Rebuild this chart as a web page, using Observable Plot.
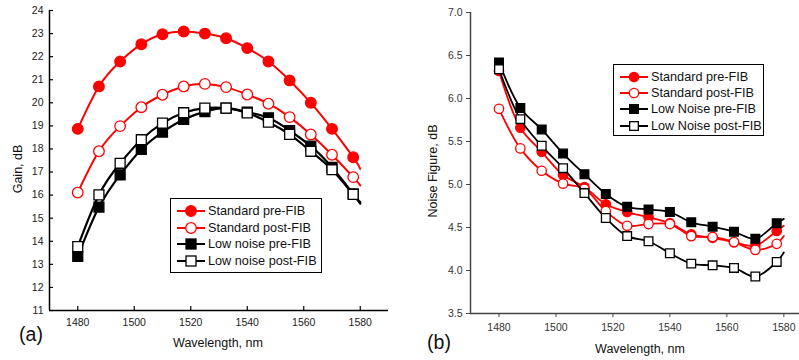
<!DOCTYPE html>
<html><head><meta charset="utf-8">
<script src="https://cdn.jsdelivr.net/npm/d3@7"></script>
<script src="https://cdn.jsdelivr.net/npm/@observablehq/plot@0.6"></script>
<style>
body{margin:0;background:#fff;font-family:"Liberation Sans",Arial,sans-serif;}
#wrap{position:relative;width:799px;height:360px;overflow:hidden;background:#fff;}
.panel{position:absolute;top:0;}
.lbl{position:absolute;color:#111;white-space:nowrap;line-height:1;}
.legend{position:absolute;border:1.3px solid #000;background:#fff;box-sizing:border-box;}
.row{position:absolute;left:0;height:16px;display:flex;align-items:center;font-size:12.7px;color:#111;white-space:nowrap;}
.row svg{display:block;}
</style>
</head><body>
<div id="wrap"></div>
<script>
// ---------- data ----------
const wavelengths = [1480,1487.5,1495,1502.5,1510,1517.5,1525,1532.5,1540,1547.5,1555,1562.5,1570,1577.5];
const lineEndWavelength = 1580;

// Panel (a): Gain, dB
const gainStdPre   = [18.87,20.71,21.79,22.54,22.97,23.09,23.00,22.80,22.37,21.79,20.97,20.00,18.87,17.64];
const gainStdPost  = [16.11,17.90,18.99,19.81,20.35,20.71,20.82,20.68,20.36,19.96,19.38,18.63,17.75,16.78];
const gainLnPre    = [13.34,15.48,16.88,17.98,18.73,19.28,19.62,19.77,19.60,19.35,18.80,18.12,17.20,16.05];
const gainLnPost   = [13.77,16.01,17.38,18.40,19.12,19.57,19.77,19.77,19.56,19.16,18.63,17.90,17.10,16.03];
const gainLineEnds = [17.14,16.42,15.63,15.70];

// Panel (b): Noise Figure, dB
const nfStdPre   = [6.32,5.66,5.38,5.11,4.97,4.77,4.68,4.62,4.55,4.42,4.38,4.33,4.29,4.46];
const nfStdPost  = [5.88,5.42,5.16,5.01,4.95,4.69,4.52,4.54,4.54,4.40,4.39,4.33,4.24,4.31];
const nfLnPre    = [6.42,5.89,5.64,5.36,5.12,4.89,4.74,4.71,4.68,4.56,4.51,4.45,4.37,4.55];
const nfLnPost   = [6.34,5.76,5.45,5.19,4.90,4.61,4.40,4.34,4.20,4.08,4.06,4.03,3.93,4.10];
const nfLineEnds = [4.52,4.40,4.60,4.21];

// Tick values
const xTicks = [1480,1500,1520,1540,1560,1580];
const gainTicks = [11,12,13,14,15,16,17,18,19,20,21,22,23,24];
const nfTicks = [3.5,4.0,4.5,5.0,5.5,6.0,6.5,7.0];

// Legend labels
const legendA = ["Standard pre-FIB","Standard post-FIB","Low noise pre-FIB","Low noise post-FIB"];
const legendB = ["Standard pre-FIB","Standard post-FIB","Low Noise pre-FIB","Low Noise post-FIB"];

// ---------- styles per series ----------
const RED = "#ff0000", BLK = "#000000";
const styles = [
  {color: RED, symbol: "circle", filled: true},
  {color: RED, symbol: "circle", filled: false},
  {color: BLK, symbol: "square", filled: true},
  {color: BLK, symbol: "square", filled: false}
];

function seriesMarks(ys, endY, st, opts) {
  const pts = wavelengths.map((w, i) => ({w, v: ys[i]}));
  const linePts = pts.concat([{w: lineEndWavelength, v: endY}]);
  const isSq = st.symbol === "square";
  return [
    Plot.line(linePts, {x: "w", y: "v", stroke: st.color, strokeWidth: isSq ? opts.swB : opts.swR, curve: opts.curve}),
    Plot.dot(pts, {x: "w", y: "v", symbol: st.symbol, r: isSq ? opts.rSq : opts.rC,
      fill: st.filled ? st.color : "#fff", stroke: st.color, strokeWidth: 1.3})
  ];
}

const wrap = document.getElementById("wrap");
const intFmt = d => String(d);

// ---------- Panel (a) ----------
const A_W = 400, A_H = 360, A_ML = 49, A_MR = 12, A_MT = 10, A_MB = 50;
const gainSeries = [gainStdPre, gainStdPost, gainLnPre, gainLnPost];
const optsA = {curve: "natural", swR: 2, swB: 2.2, rC: 5.3, rSq: 5.6};
const plotA = Plot.plot({
  width: A_W, height: A_H, marginLeft: A_ML, marginRight: A_MR, marginTop: A_MT, marginBottom: A_MB,
  x: {domain: [1470, 1590]},
  y: {domain: [11, 24]},
  style: {fontFamily: "'Liberation Sans', Arial, sans-serif", fontSize: "10.5px", color: "#222", background: "transparent", overflow: "visible"},
  marks: [
    Plot.axisY(gainTicks, {tickSize: 0, tickPadding: 6, label: null, tickFormat: intFmt}),
    Plot.axisX(xTicks, {tickSize: 0, tickPadding: 8, label: null, tickFormat: intFmt}),
    Plot.tickY(gainTicks, {y: d => d, insetRight: (A_W - A_ML - A_MR) - 4, stroke: "#000", strokeWidth: 1.2}),
    Plot.tickX(xTicks, {x: d => d, insetTop: (A_H - A_MT - A_MB) - 4, stroke: "#000", strokeWidth: 1.2}),
    Plot.ruleX([1470], {stroke: "#000", strokeWidth: 1.5}),
    Plot.ruleY([11], {stroke: "#000", strokeWidth: 1.5}),
    ...gainSeries.flatMap((ys, i) => seriesMarks(ys, gainLineEnds[i], styles[i], optsA))
  ]
});
plotA.classList.add("panel");
plotA.style.left = "0px";
wrap.appendChild(plotA);

// ---------- Panel (b) ----------
const B_W = 399, B_H = 360, B_ML = 70, B_MR = 0, B_MT = 12, B_MB = 47;
const nfSeries = [nfStdPre, nfStdPost, nfLnPre, nfLnPost];
const optsB = {curve: "catmull-rom", swR: 1.8, swB: 1.8, rC: 4.7, rSq: 4.9};
const plotB = Plot.plot({
  width: B_W, height: B_H, marginLeft: B_ML, marginRight: B_MR, marginTop: B_MT, marginBottom: B_MB,
  x: {domain: [1470, 1585.5]},
  y: {domain: [3.5, 7.0]},
  style: {fontFamily: "'Liberation Sans', Arial, sans-serif", fontSize: "10.5px", color: "#333", background: "transparent", overflow: "visible"},
  marks: [
    Plot.axisY(nfTicks, {tickSize: 4, tickPadding: 4, label: null, tickFormat: d3.format(".1f"), stroke: "#444"}),
    Plot.axisX(xTicks, {tickSize: 4, tickPadding: 6, label: null, tickFormat: intFmt, stroke: "#444"}),
    Plot.ruleX([1470], {stroke: "#444", strokeWidth: 1.5}),
    Plot.ruleY([3.5], {stroke: "#444", strokeWidth: 1.5}),
    ...nfSeries.flatMap((ys, i) => seriesMarks(ys, nfLineEnds[i], styles[i], optsB))
  ]
});
plotB.classList.add("panel");
plotB.style.left = "400px";
wrap.appendChild(plotB);

// ---------- Labels ----------
function label(text, cx, cy, size, rotate) {
  const d = document.createElement("div");
  d.className = "lbl";
  d.textContent = text;
  d.style.left = cx + "px";
  d.style.top = cy + "px";
  d.style.fontSize = size + "px";
  d.style.transform = "translate(-50%,-50%)" + (rotate ? " rotate(-90deg)" : "");
  wrap.appendChild(d);
}
label("Gain, dB", 18, 169, 12.5, true);
label("Wavelength, nm", 218, 343, 12.5, false);
label("(a)", 31, 335, 19.5, false);
label("Noise Figure, dB", 433, 171, 12.5, true);
label("Wavelength, nm", 640, 349, 12.5, false);
label("(b)", 439, 343, 19.5, false);

// ---------- Legends ----------
function legend(names, left, top, w, h, rowTops, sizes) {
  const box = document.createElement("div");
  box.className = "legend";
  box.style.left = left + "px"; box.style.top = top + "px";
  box.style.width = w + "px"; box.style.height = h + "px";
  names.forEach((name, i) => {
    const st = styles[i];
    const row = document.createElement("div");
    row.className = "row";
    row.style.top = rowTops[i] + "px";
    row.style.left = "5px";
    const ns = "http://www.w3.org/2000/svg";
    const svg = document.createElementNS(ns, "svg");
    svg.setAttribute("width", 30); svg.setAttribute("height", 16);
    const ln = document.createElementNS(ns, "line");
    ln.setAttribute("x1", 1); ln.setAttribute("x2", 29); ln.setAttribute("y1", 8); ln.setAttribute("y2", 8);
    ln.setAttribute("stroke", st.color); ln.setAttribute("stroke-width", 2);
    svg.appendChild(ln);
    let m;
    if (st.symbol === "circle") {
      m = document.createElementNS(ns, "circle");
      m.setAttribute("cx", 15); m.setAttribute("cy", 8); m.setAttribute("r", sizes.rC);
    } else {
      m = document.createElementNS(ns, "rect");
      const s = sizes.sq;
      m.setAttribute("x", 15 - s / 2); m.setAttribute("y", 8 - s / 2);
      m.setAttribute("width", s); m.setAttribute("height", s);
    }
    m.setAttribute("fill", st.filled ? st.color : "#fff");
    m.setAttribute("stroke", st.color); m.setAttribute("stroke-width", 1.3);
    svg.appendChild(m);
    row.appendChild(svg);
    const t = document.createElement("span");
    t.textContent = name;
    t.style.marginLeft = "2px";
    row.appendChild(t);
    box.appendChild(row);
  });
  wrap.appendChild(box);
}
legend(legendA, 170, 198, 152, 75, [4, 20.7, 37.3, 54], {rC: 5.3, sq: 10});
legend(legendB, 613, 64, 151, 72, [4, 19.6, 36.3, 53.3], {rC: 4.7, sq: 8.7});
</script>
</body></html>
